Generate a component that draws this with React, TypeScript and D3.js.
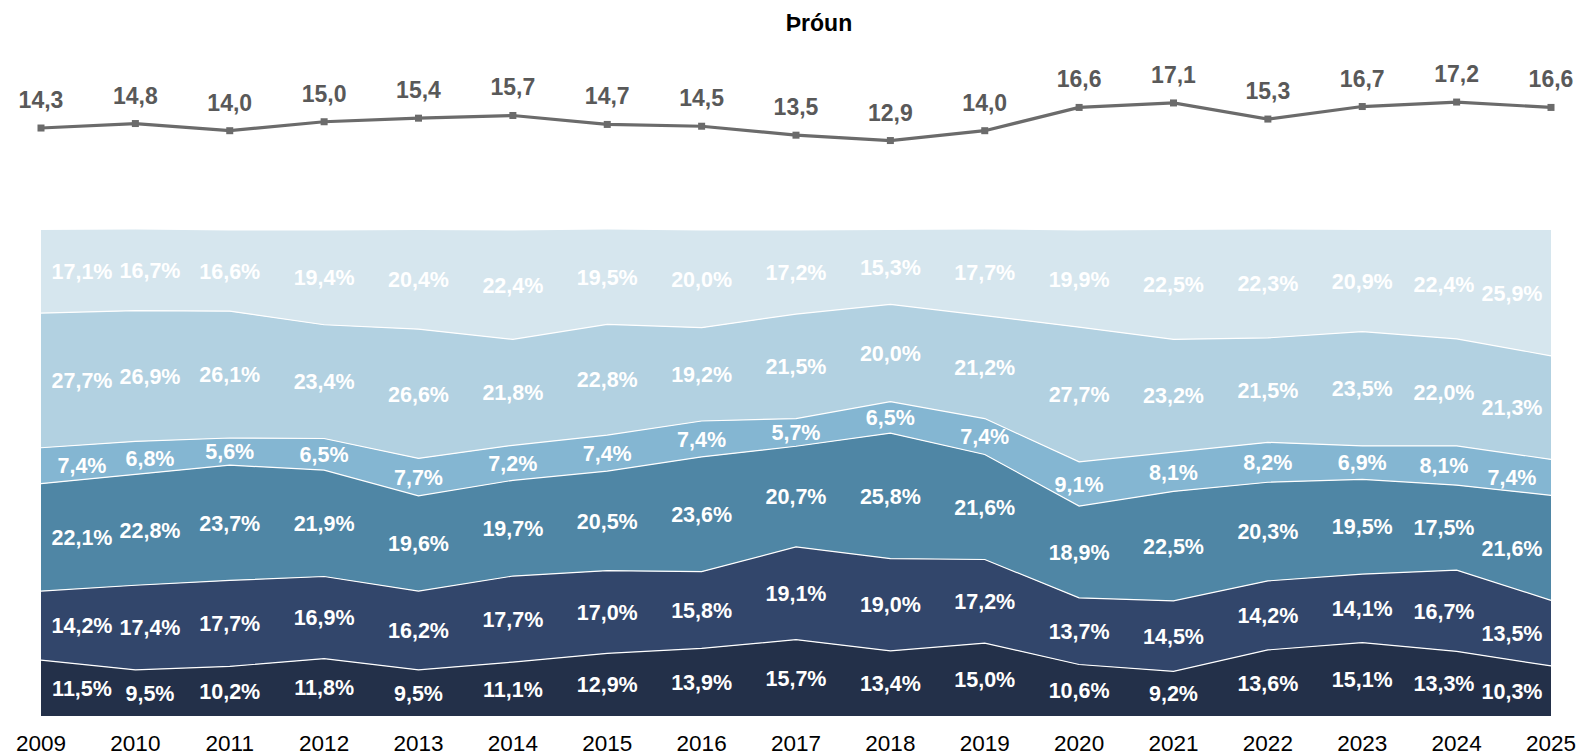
import * as d3 from 'd3'
import React from 'react'

// categories
const years = ['2009', '2010', '2011', '2012', '2013', '2014', '2015', '2016', '2017', '2018', '2019', '2020', '2021', '2022', '2023', '2024', '2025']

// top line series
const trend = [14.3, 14.8, 14.0, 15.0, 15.4, 15.7, 14.7, 14.5, 13.5, 12.9, 14.0, 16.6, 17.1, 15.3, 16.7, 17.2, 16.6]

// stacked shares, bottom to top (%)
const s1 = [11.5, 9.5, 10.2, 11.8, 9.5, 11.1, 12.9, 13.9, 15.7, 13.4, 15.0, 10.6, 9.2, 13.6, 15.1, 13.3, 10.3]
const s2 = [14.2, 17.4, 17.7, 16.9, 16.2, 17.7, 17.0, 15.8, 19.1, 19.0, 17.2, 13.7, 14.5, 14.2, 14.1, 16.7, 13.5]
const s3 = [22.1, 22.8, 23.7, 21.9, 19.6, 19.7, 20.5, 23.6, 20.7, 25.8, 21.6, 18.9, 22.5, 20.3, 19.5, 17.5, 21.6]
const s4 = [7.4, 6.8, 5.6, 6.5, 7.7, 7.2, 7.4, 7.4, 5.7, 6.5, 7.4, 9.1, 8.1, 8.2, 6.9, 8.1, 7.4]
const s5 = [27.7, 26.9, 26.1, 23.4, 26.6, 21.8, 22.8, 19.2, 21.5, 20.0, 21.2, 27.7, 23.2, 21.5, 23.5, 22.0, 21.3]
const s6 = [17.1, 16.7, 16.6, 19.4, 20.4, 22.4, 19.5, 20.0, 17.2, 15.3, 17.7, 19.9, 22.5, 22.3, 20.9, 22.4, 25.9]

const seriesList = [s1, s2, s3, s4, s5, s6]
const colors = ['#233049', '#32466b', '#4f86a5', '#84b6d2', '#b2d1e1', '#d6e6ee']

const W = 1583
const H = 756
const plot = { left: 41, right: 1551, top: 230, bottom: 716 }
const font = '"Liberation Sans", Arial, sans-serif'

const fmt = (v: number) => v.toFixed(1).replace('.', ',')

export default function App() {
  const x = d3.scalePoint<string>().domain(years).range([plot.left, plot.right])
  const y = d3.scaleLinear().domain([0, 100]).range([plot.bottom, plot.top])
  const yLine = d3.scaleLinear().domain([0, 20]).range([256, 77])

  const rows = years.map((yr, i) => {
    const r: Record<string, number | string> = { year: yr }
    seriesList.forEach((s, k) => (r['k' + k] = s[i]))
    return r
  })
  const keys = seriesList.map((_, k) => 'k' + k)
  const stacked = d3.stack<any>().keys(keys)(rows)

  const area = d3
    .area<any>()
    .x((d) => x(d.data.year) as number)
    .y0((d) => y(d[0]))
    .y1((d) => y(d[1]))
  const topLine = d3
    .line<any>()
    .x((d) => x(d.data.year) as number)
    .y((d) => y(d[1]))

  // label x positions: first/last pulled inside, neighbours pushed apart
  const gap = 68
  const lx = years.map((yr) => x(yr) as number)
  lx[0] = plot.left + 41
  lx[lx.length - 1] = plot.right - 39
  for (let i = 1; i < lx.length - 1; i++) if (lx[i] - lx[i - 1] < gap) lx[i] = lx[i - 1] + gap
  for (let i = lx.length - 2; i > 0; i--) if (lx[i + 1] - lx[i] < gap) lx[i] = lx[i + 1] - gap

  const trendLine = d3
    .line<number>()
    .x((_, i) => x(years[i]) as number)
    .y((d) => yLine(d))

  return (
    <svg width={W} height={H} style={{ position: 'absolute', left: 0, top: 0, fontFamily: font }}>
      <rect width={W} height={H} fill='#ffffff' />
      <text x={819} y={31} textAnchor='middle' fontSize={23} fontWeight='bold' fill='#000'>
        Þróun
      </text>

      {/* top trend line */}
      <path d={trendLine(trend) || ''} fill='none' stroke='#6b6b6b' strokeWidth={3.2} />
      {trend.map((v, i) => (
        <g key={`m-${i}`}>
          <rect x={(x(years[i]) as number) - 3.5} y={yLine(v) - 3.5} width={7} height={7} fill='#6b6b6b' />
          <text
            x={x(years[i])}
            y={yLine(v) - 20}
            textAnchor='middle'
            fontSize={23}
            fontWeight='bold'
            fill='#595959'
          >
            {fmt(v)}
          </text>
        </g>
      ))}

      {/* stacked areas */}
      {stacked.map((layer, k) => (
        <path key={`a-${k}`} d={area(layer) || ''} fill={colors[k]} />
      ))}
      {stacked.slice(0, -1).map((layer, k) => (
        <path key={`l-${k}`} d={topLine(layer) || ''} fill='none' stroke='#ffffff' strokeWidth={1.2} />
      ))}

      {stacked.map((layer, k) =>
        layer.map((d: any, i: number) => (
          <text
            key={`t-${k}-${i}`}
            x={lx[i]}
            y={(y(d[0]) + y(d[1])) / 2}
            dy='0.36em'
            textAnchor='middle'
            fontSize={21.5}
            fontWeight='bold'
            fill='#ffffff'
          >
            {fmt(seriesList[k][i]) + '%'}
          </text>
        ))
      )}

      {/* x axis labels */}
      {years.map((yr) => (
        <text key={`x-${yr}`} x={x(yr)} y={751} textAnchor='middle' fontSize={22.5} fill='#000'>
          {yr}
        </text>
      ))}
    </svg>
  )
}
